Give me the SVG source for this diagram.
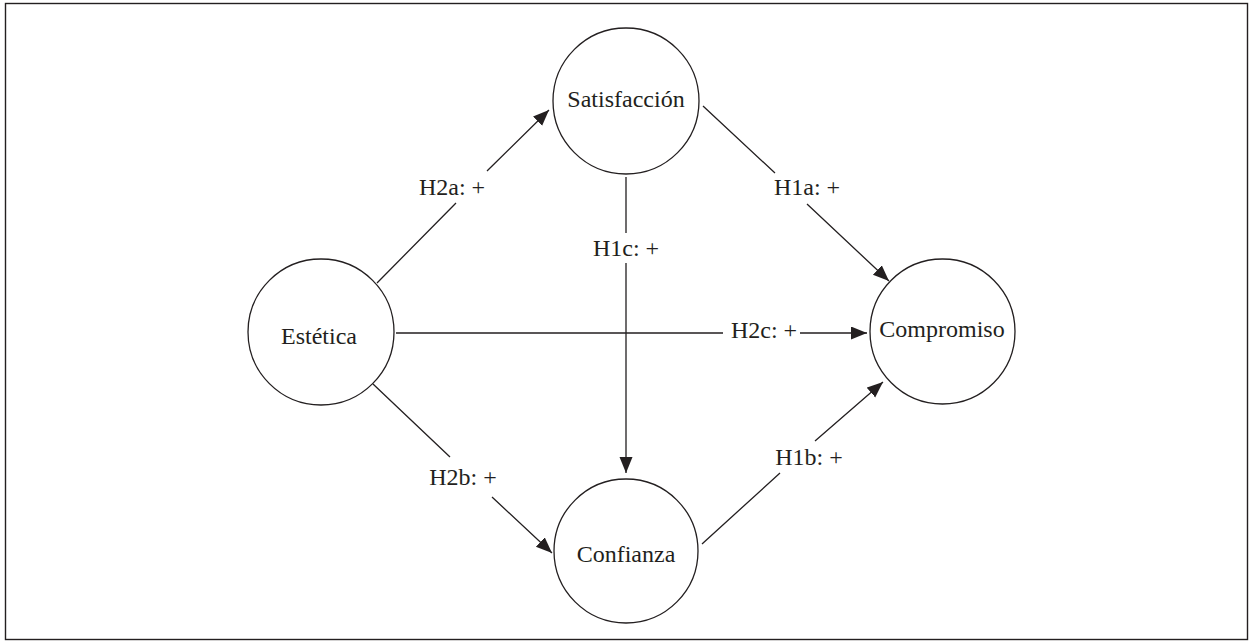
<svg xmlns="http://www.w3.org/2000/svg" width="1253" height="644" viewBox="0 0 1253 644">
<style>
.node{fill:#fff;stroke:#231f20;stroke-width:1.3}
.lbl{font-family:"Liberation Serif","Times New Roman",serif;font-size:24px;fill:#231f20;text-anchor:middle}
.edge{fill:none;stroke:#231f20;stroke-width:1.3}
</style>
<defs>
<marker id="arr" markerUnits="userSpaceOnUse" markerWidth="17" markerHeight="14" refX="16" refY="6.5" orient="auto">
<path d="M0,0 L16,6.5 L0,13 z" fill="#231f20"/>
</marker>
</defs>
<rect x="5.5" y="3.5" width="1242" height="636" fill="#fff" stroke="#231f20" stroke-width="1.4"/>
<g id="connectors">
<path class="edge" d="M377,283 L456,203 M487,171 L549,110" marker-end="url(#arr)"/>
<path class="edge" d="M703,106 L775,173 M807,204 L889,281" marker-end="url(#arr)"/>
<path class="edge" d="M626,177 L626,233 M626,263 L626,473" marker-end="url(#arr)"/>
<path class="edge" d="M396,333 L723,333 M800,333 L867,333" marker-end="url(#arr)"/>
<path class="edge" d="M373,384 L450,457 M492,497 L552,553" marker-end="url(#arr)"/>
<path class="edge" d="M702,544 L780,473 M815,441 L883,382" marker-end="url(#arr)"/>
<text class="lbl" x="452" y="195">H2a: +</text>
<text class="lbl" x="807" y="195">H1a: +</text>
<text class="lbl" x="626" y="256">H1c: +</text>
<text class="lbl" x="764" y="338">H2c: +</text>
<text class="lbl" x="463" y="485">H2b: +</text>
<text class="lbl" x="809" y="465">H1b: +</text>
</g>
<g id="satisfaccion">
<circle class="node" cx="626" cy="101" r="73"/>
<text class="lbl" x="626" y="107">Satisfacción</text>
</g>
<g id="estetica">
<circle class="node" cx="321" cy="332" r="73"/>
<text class="lbl" x="319" y="344">Estética</text>
</g>
<g id="compromiso">
<circle class="node" cx="942.5" cy="331.5" r="72.5"/>
<text class="lbl" x="942" y="337">Compromiso</text>
</g>
<g id="confianza">
<circle class="node" cx="626" cy="551" r="72"/>
<text class="lbl" x="626" y="562">Confianza</text>
</g>
</svg>
